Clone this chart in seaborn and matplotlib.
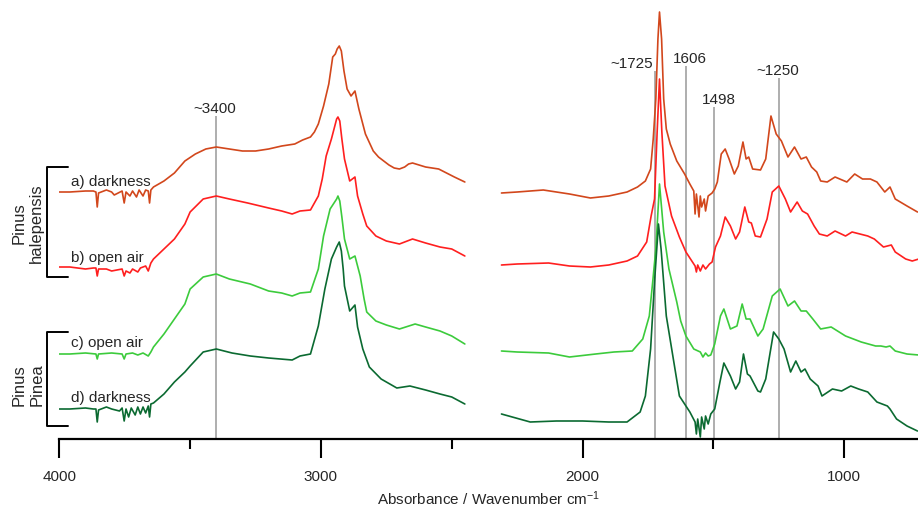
import matplotlib
matplotlib.use("Agg")
import matplotlib.pyplot as plt
import seaborn as sns
from matplotlib.lines import Line2D

# wavenumber (cm-1) / absorbance (arbitrary, stacked)
# left window 4000-2450, right window 2310-720
a_wn_left = [4000, 3960, 3900, 3870, 3860, 3855, 3850, 3820, 3800, 3790, 3760, 3752, 3745, 3730, 3720,
             3705, 3695, 3680, 3670, 3660, 3655, 3650, 3640, 3600, 3560, 3520, 3480, 3440, 3400, 3350,
             3300, 3250, 3200, 3150, 3100, 3070, 3040, 3025, 3010, 2990, 2970, 2955, 2945, 2938, 2930,
             2922, 2912, 2900, 2885, 2870, 2855, 2830, 2800, 2780, 2760, 2740, 2720, 2700, 2680, 2665,
             2650, 2625, 2600, 2575, 2550, 2520, 2490, 2450]
a_ab_left = [247, 247, 248, 248, 247, 232, 246, 249, 247, 244, 248, 236, 247, 243, 248,
             242, 249, 243, 249, 248, 236, 249, 252, 258, 266, 278, 285, 290, 292, 290,
             288, 288, 290, 293, 295, 299, 302, 307, 315, 333, 355, 382, 385, 390, 393,
             388, 368, 350, 343, 348, 330, 305, 288, 282, 278, 274, 271, 270, 272, 275,
             276, 274, 272, 271, 270, 266, 262, 257]
a_wn_right = [2310, 2250, 2150, 2050, 1970, 1900, 1830, 1790, 1760, 1740, 1730, 1720, 1712, 1706, 1698,
              1690, 1680, 1665, 1640, 1610, 1590, 1575, 1570, 1565, 1555, 1550, 1545, 1535, 1530, 1520,
              1505, 1495, 1485, 1470, 1455, 1440, 1420, 1405, 1387, 1375, 1365, 1350, 1320, 1300, 1280,
              1260, 1240, 1215, 1190, 1165, 1145, 1125, 1105, 1090, 1065, 1035, 990, 960, 930, 900,
              875, 845, 825, 805, 760, 720]
a_ab_right = [246, 247, 249, 245, 241, 243, 247, 252, 258, 270, 300, 340, 400, 427, 400,
              340, 310, 295, 278, 265, 255, 248, 225, 245, 222, 243, 232, 240, 228, 243,
              246, 250, 257, 285, 290, 280, 265, 273, 297, 280, 282, 270, 269, 280, 323,
              305, 298, 282, 292, 280, 282, 272, 267, 258, 257, 262, 257, 265, 260, 260,
              257, 247, 252, 240, 233, 227]

b_wn_left = [4000, 3960, 3900, 3870, 3860, 3855, 3850, 3820, 3800, 3760, 3752, 3745, 3730, 3720, 3700,
             3690, 3670, 3660, 3650, 3640, 3600, 3560, 3520, 3500, 3450, 3400, 3350, 3280, 3200, 3150,
             3110, 3080, 3040, 3010, 2995, 2980, 2960, 2945, 2940, 2935, 2928, 2920, 2910, 2890, 2870,
             2860, 2840, 2825, 2790, 2750, 2700, 2650, 2600, 2545, 2500, 2450]
b_ab_left = [172, 172, 170, 171, 171, 163, 170, 170, 168, 170, 163, 168, 166, 170, 167,
             171, 173, 168, 176, 180, 190, 200, 215, 227, 240, 243, 240, 236, 231, 228,
             225, 228, 229, 243, 260, 283, 300, 315, 320, 322, 318, 300, 280, 258, 262,
             243, 225, 213, 203, 198, 195, 200, 196, 192, 190, 183]
b_wn_right = [2310, 2250, 2130, 2050, 1970, 1900, 1830, 1790, 1755, 1738, 1725, 1715, 1706, 1697, 1685,
              1660, 1630, 1605, 1580, 1570, 1565, 1560, 1550, 1540, 1530, 1515, 1505, 1492, 1473, 1455,
              1435, 1415, 1400, 1380, 1365, 1355, 1340, 1320, 1295, 1275, 1250, 1225, 1205, 1180, 1160,
              1140, 1115, 1095, 1065, 1035, 995, 970, 940, 910, 885, 850, 820, 805, 765, 740, 715]
b_ab_right = [174, 175, 176, 173, 172, 174, 178, 183, 197, 223, 240, 307, 360, 307, 253,
              223, 202, 187, 177, 173, 167, 174, 168, 174, 170, 175, 177, 192, 203, 222,
              213, 200, 207, 232, 217, 216, 203, 202, 220, 247, 253, 240, 227, 237, 228,
              225, 213, 205, 203, 208, 203, 207, 205, 203, 200, 192, 194, 187, 180, 178, 180]

c_wn_left = [4000, 3960, 3900, 3860, 3855, 3850, 3800, 3760, 3752, 3745, 3720, 3700, 3680, 3660, 3650,
             3640, 3600, 3560, 3520, 3500, 3450, 3400, 3350, 3270, 3200, 3150, 3110, 3080, 3040, 3010,
             2990, 2965, 2940, 2935, 2928, 2920, 2910, 2890, 2870, 2850, 2835, 2825, 2790, 2750, 2700,
             2640, 2600, 2545, 2500, 2450]
c_ab_left = [85, 85, 86, 85, 80, 85, 86, 85, 80, 85, 86, 84, 86, 83, 87,
             92, 105, 120, 135, 150, 162, 165, 160, 155, 148, 146, 143, 146, 147, 170,
             203, 230, 240, 243, 238, 222, 200, 180, 183, 163, 140, 127, 118, 114, 110,
             115, 112, 108, 103, 95]
c_wn_right = [2310, 2250, 2130, 2050, 1950, 1880, 1810, 1770, 1745, 1732, 1720, 1706, 1690, 1670, 1640,
              1625, 1605, 1575, 1550, 1540, 1530, 1520, 1510, 1495, 1473, 1460, 1435, 1410, 1390, 1375,
              1360, 1330, 1310, 1275, 1245, 1215, 1190, 1165, 1145, 1120, 1090, 1050, 995, 935, 880,
              860, 840, 825, 805, 760, 715]
c_ab_right = [88, 87, 86, 82, 85, 87, 88, 100, 123, 157, 190, 255, 207, 170, 137,
              118, 103, 90, 87, 82, 86, 83, 84, 95, 123, 130, 110, 113, 135, 120,
              120, 103, 110, 143, 150, 133, 138, 128, 128, 120, 110, 112, 103, 97, 93,
              93, 92, 93, 88, 85, 84]

d_wn_left = [4000, 3960, 3900, 3870, 3860, 3855, 3850, 3820, 3800, 3770, 3760, 3752, 3745, 3735, 3725,
             3710, 3700, 3690, 3680, 3670, 3660, 3655, 3650, 3640, 3600, 3560, 3520, 3500, 3450, 3400,
             3340, 3270, 3200, 3110, 3080, 3040, 3010, 2985, 2960, 2940, 2930, 2922, 2915, 2910, 2890,
             2870, 2860, 2840, 2815, 2770, 2710, 2660, 2600, 2545, 2500, 2450]
d_ab_left = [30, 30, 31, 30, 30, 17, 29, 32, 30, 28, 31, 18, 30, 22, 31,
             24, 32, 25, 32, 26, 33, 22, 35, 36, 45, 57, 67, 73, 87, 90,
             86, 83, 81, 79, 83, 85, 113, 150, 180, 192, 197, 188, 170, 153, 128,
             134, 112, 90, 72, 60, 51, 53, 49, 45, 42, 35]
d_wn_right = [2310, 2200, 2100, 2000, 1900, 1830, 1780, 1760, 1740, 1725, 1710, 1700, 1680, 1655, 1630,
              1590, 1570, 1565, 1560, 1550, 1545, 1535, 1530, 1520, 1510, 1495, 1475, 1460, 1435, 1415,
              1400, 1385, 1370, 1360, 1330, 1320, 1300, 1270, 1250, 1230, 1205, 1185, 1165, 1150, 1130,
              1100, 1085, 1045, 1010, 975, 945, 910, 875, 835, 825, 800, 760, 720]
d_ab_right = [25, 17, 18, 18, 17, 17, 27, 43, 90, 157, 215, 190, 123, 83, 43,
              27, 17, 5, 20, 2, 22, 10, 23, 15, 25, 30, 57, 76, 63, 50,
              57, 85, 65, 63, 48, 47, 60, 107, 100, 90, 67, 78, 67, 70, 60,
              53, 43, 50, 48, 53, 50, 47, 37, 33, 30, 20, 13, 8]

samples = ["a) darkness", "b) open air", "c) open air", "d) darkness"]
colors = ["#d2471c", "#ff1f1f", "#3ccb3c", "#0b6a31"]
spectra = [
    (a_wn_left, a_ab_left, a_wn_right, a_ab_right),
    (b_wn_left, b_ab_left, b_wn_right, b_ab_right),
    (c_wn_left, c_ab_left, c_wn_right, c_ab_right),
    (d_wn_left, d_ab_left, d_wn_right, d_ab_right),
]
label_ab = [258, 182, 97, 42]

peak_wn = [3400, 1725, 1606, 1498, 1250]
peak_labels = ["~3400", "~1725", "1606", "1498", "~1250"]
peak_top = [323, 368, 373, 332, 361]

sns.set_theme(style="white")
plt.rcParams["font.family"] = ["Liberation Sans", "DejaVu Sans"]
plt.rcParams["mathtext.default"] = "regular"

fig = plt.figure(figsize=(9.18, 5.10), dpi=100)
ax = fig.add_axes([59.3 / 918, 70 / 510, (918 - 59.3) / 918, 440 / 510])

# marker lines behind the spectra
ax.vlines(peak_wn, 0, peak_top, color="#a8a8a8", lw=1.3, zorder=1)
for wn, lab, top in zip(peak_wn, peak_labels, peak_top):
    if lab == "~1725":
        ax.text(wn + 5, top + 1, lab, ha="right", va="bottom", fontsize=11)
    elif lab == "1606":
        ax.text(wn - 15, top + 1, lab, ha="center", va="bottom", fontsize=11)
    else:
        ax.text(wn - 20 if lab == "1498" else wn + 5, top + 1, lab,
                ha="center", va="bottom", fontsize=11)

for (wl, al, wr, ar), col, name, ly in zip(spectra, colors, samples, label_ab):
    sns.lineplot(x=wl, y=al, color=col, lw=1.2, estimator=None, ax=ax, zorder=2)
    sns.lineplot(x=wr, y=ar, color=col, lw=1.2, estimator=None, ax=ax, zorder=2)
    ax.text(3955, ly, name, ha="left", va="center", fontsize=11)

ax.set_xlim(4000, 718)
ax.set_ylim(0, 440)
ax.set_xticks([4000, 3000, 2000, 1000])
ax.set_xticks([3500, 2500, 1500], minor=True)
ax.set_yticks([])
ax.tick_params(axis="x", which="major", bottom=True, direction="out", length=13.7,
               width=1.5, pad=8, labelsize=11, color="black")
ax.tick_params(axis="x", which="minor", bottom=True, direction="out", length=7.2,
               width=1.5, color="black")
for side in ["left", "top", "right"]:
    ax.spines[side].set_visible(False)
ax.spines["bottom"].set_linewidth(1.6)
ax.spines["bottom"].set_color("black")
ax.set_xlabel("Absorbance / Wavenumber cm$^{-1}$", fontsize=11, labelpad=4)
ax.set_ylabel("")

# species brackets on the left
def px(x, y):
    return x / 918, 1 - y / 510

for top, bot in [(168, 278), (333, 427)]:
    xs = [px(68, 0)[0], px(47, 0)[0], px(47, 0)[0], px(68, 0)[0]]
    ys = [px(0, top)[1], px(0, top)[1], px(0, bot)[1], px(0, bot)[1]]
    fig.add_artist(Line2D(xs, ys, color="black", lw=1.4))

fig.text(*px(28, 223), "Pinus\nhalepensis", rotation=90, ha="center", va="center",
         multialignment="center", fontsize=12, linespacing=1.2)
fig.text(*px(28, 385), "Pinus\nPinea", rotation=90, ha="center", va="center",
         multialignment="center", fontsize=12, linespacing=1.2)

fig.savefig("out.png", dpi=100)
